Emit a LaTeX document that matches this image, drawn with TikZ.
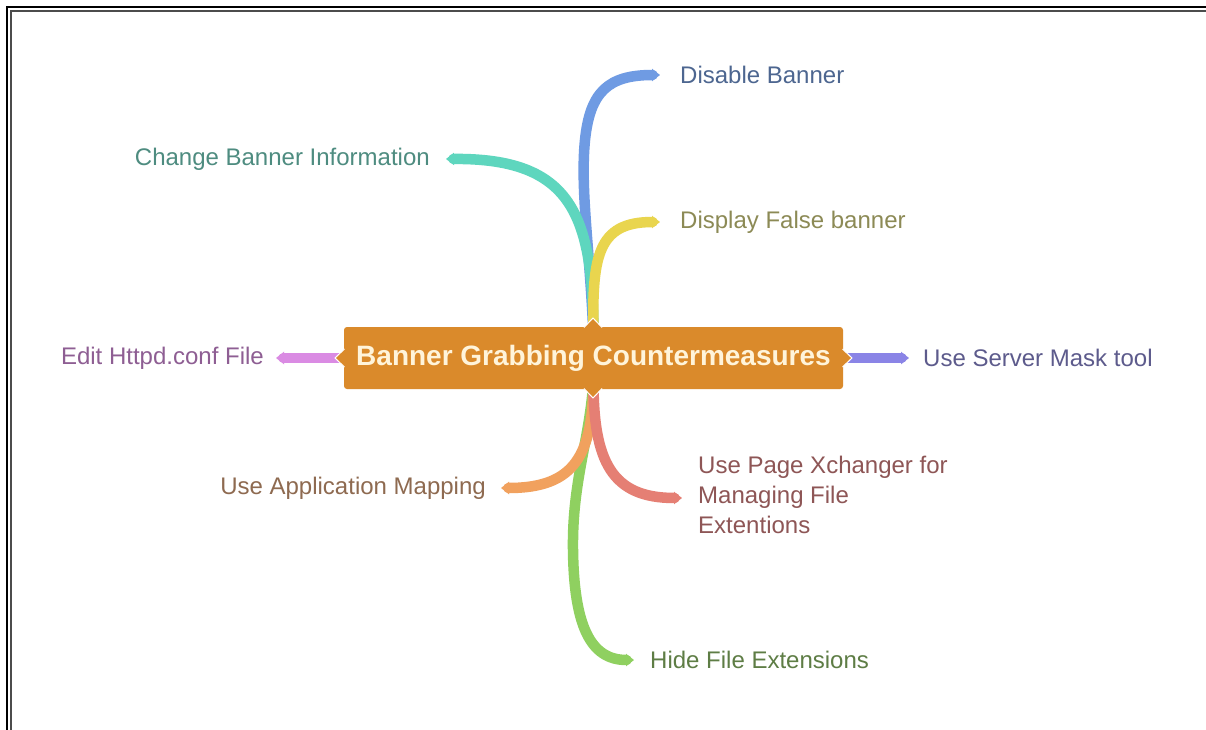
\documentclass[tikz,border=0pt]{standalone}
\usepackage{fontspec}
\setmainfont{Liberation Sans}
\usetikzlibrary{arrows.meta,calc}
\pgfdeclarelayer{bg}\pgfdeclarelayer{lines}
\pgfsetlayers{bg,lines,main}
\definecolor{boxc}{HTML}{DA8A2B}
\definecolor{titlec}{HTML}{FFF4DA}
\definecolor{blueL}{HTML}{6F9BE3}\definecolor{blueT}{HTML}{4D6690}
\definecolor{tealL}{HTML}{5ED6BE}\definecolor{tealT}{HTML}{4E8C80}
\definecolor{yelL}{HTML}{E9D54E}\definecolor{yelT}{HTML}{8C8A55}
\definecolor{pinkL}{HTML}{DA8BE3}\definecolor{pinkT}{HTML}{8E5E93}
\definecolor{purL}{HTML}{8A84E6}\definecolor{purT}{HTML}{5D5B8C}
\definecolor{oraL}{HTML}{F1A15E}\definecolor{oraT}{HTML}{8E6A50}
\definecolor{redL}{HTML}{E57F74}\definecolor{redT}{HTML}{8E5656}
\definecolor{grnL}{HTML}{8FD060}\definecolor{grnT}{HTML}{5E7D45}
\tikzset{
  lbl/.style={inner sep=0pt, font=\fontsize{24}{30}\selectfont, align=left},
  branch/.style={line width=10.5pt, -{Triangle[length=8pt 0 0,width=12pt 0 0]}, line cap=round},
  notch/.style={fill=boxc, draw=white, line width=1pt, line join=miter}
}
\begin{document}
\begin{tikzpicture}[x=1pt,y=-1pt]
\useasboundingbox (0,0) rectangle (1206,730);
\begin{pgfonlayer}{bg}
\fill[white] (0,0) rectangle (1206,730);
\draw[black, line width=2.2pt] (7,730) -- (7,7) -- (1206,7);
\draw[black!70, line width=2.2pt] (11,730) -- (11,11) -- (1206,11);
\end{pgfonlayer}

% centre
\node[fill=boxc, rounded corners=3pt, minimum width=499pt, minimum height=62pt, inner sep=0pt,
      text=titlec, font=\bfseries\fontsize{28}{32}\selectfont] (c) at (593.5,358) {Banner Grabbing Countermeasures};

% labels
\node[lbl, anchor=west, text=blueT] (dis) at (680,75) {Disable Banner};
\node[lbl, anchor=east, text=tealT] (chg) at (430,159) {Change Banner Information};
\node[lbl, anchor=west, text=yelT] (dfb) at (680,222) {Display False banner};
\node[lbl, anchor=east, text=pinkT] (edit) at (264,358) {Edit Httpd.conf File};
\node[lbl, anchor=west, text=purT] (mask) at (923,358) {Use Server Mask tool};
\node[lbl, anchor=east, text=oraT] (app) at (486,488) {Use Application Mapping};
\node[lbl, anchor=north west, text=redT] (pxc) at (698,456) {Use Page Xchanger for\\Managing File\\Extentions};
\node[lbl, anchor=west, text=grnT] (hide) at (650,660) {Hide File Extensions};

\coordinate (top) at ($(c.north)+(0,10)$);
\coordinate (bot) at ($(c.south)+(0,-10)$);

\begin{pgfonlayer}{lines}
% top branches
\draw[branch, blueL] (top) .. controls (590,250) and (580,190) .. (585,140)
   .. controls (590,92) and (608,75) .. ($(dis.west)+(-20,0)$);
\draw[branch, tealL] (top) .. controls (593,215) and (572,158) .. ($(chg.east)+(16,0)$);
\draw[branch, yelL] (top) .. controls (592,258) and (596,222) .. ($(dfb.west)+(-20,0)$);

% side branches
\draw[branch, pinkL] (c.center) -- ($(edit.east)+(12,0)$);
\draw[branch, purL] (c.center) -- ($(mask.west)+(-14,0)$);

% bottom branches
\draw[branch, grnL] (bot) .. controls (590,440) and (572,480) .. (573,550)
   .. controls (574,625) and (590,660) .. ($(hide.west)+(-16,0)$);
\draw[branch, oraL] (bot) .. controls (593,455) and (575,488) .. ($(app.east)+(15,0)$);
\draw[branch, redL] (bot) .. controls (593,462) and (612,498) .. (682,498);
\end{pgfonlayer}

% notches
\draw[notch] (584,327.5) -- (593,318) -- (602,327.5);
\draw[notch] (584,388.5) -- (593,398) -- (602,388.5);
\draw[notch] (344.5,349) -- (335,358) -- (344.5,367);
\draw[notch] (842.5,349) -- (852,358) -- (842.5,367);
\end{tikzpicture}
\end{document}
